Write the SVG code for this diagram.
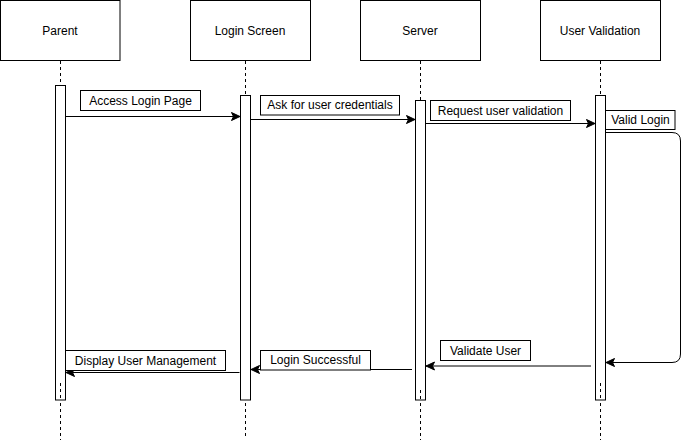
<svg xmlns="http://www.w3.org/2000/svg" width="689" height="442" viewBox="0 0 689 442">
<style>
  .hdr{fill:#fff;stroke:#000;stroke-width:1}
  .life{stroke:#000;stroke-width:1;stroke-dasharray:3,3;fill:none}
  .act{fill:#fff;stroke:#000;stroke-width:1}
  .lbl{fill:#fff;stroke:#000;stroke-width:1}
  .msg{stroke:#000;stroke-width:1;fill:none}
  text{font-family:"Liberation Sans",Arial,sans-serif;font-size:12px;fill:#000}
  .c{text-anchor:middle;dominant-baseline:central}
</style>
<defs>
  <marker id="arr" markerWidth="12" markerHeight="12" refX="9" refY="5" orient="auto" markerUnits="userSpaceOnUse">
    <path d="M0.5,1 L9,5 L0.5,9 L2.5,5 Z" fill="#000" stroke="#000" stroke-width="1"/>
  </marker>
</defs>
<rect width="689" height="442" fill="#fff"/>

<g id="parent">
  <rect class="hdr" x="0.5" y="0.5" width="119.5" height="60"/>
  <text class="c" x="60" y="30.5">Parent</text>
  <line class="life" x1="60.5" y1="61" x2="60.5" y2="440"/>
  <rect class="act" x="55.5" y="85.5" width="10" height="314.5"/>
  <line class="life" x1="60.5" y1="383" x2="60.5" y2="400"/>
</g>
<g id="login-screen">
  <rect class="hdr" x="190.5" y="0.5" width="120" height="60"/>
  <text class="c" x="250" y="30.5">Login Screen</text>
  <line class="life" x1="245.5" y1="61" x2="245.5" y2="436"/>
  <rect class="act" x="240.5" y="95.5" width="10" height="304.5"/>
</g>
<g id="server">
  <rect class="hdr" x="360.5" y="0.5" width="120" height="60"/>
  <text class="c" x="420" y="30.5">Server</text>
  <line class="life" x1="420.5" y1="61" x2="420.5" y2="440"/>
  <rect class="act" x="415.5" y="100.5" width="10" height="299.5"/>
  <line class="life" x1="420.5" y1="390" x2="420.5" y2="400"/>
</g>
<g id="user-validation">
  <rect class="hdr" x="540.5" y="0.5" width="120" height="60"/>
  <text class="c" x="600" y="30.5">User Validation</text>
  <line class="life" x1="600.5" y1="61" x2="600.5" y2="440"/>
  <rect class="act" x="595.5" y="95.5" width="10" height="304.5"/>
  <line class="life" x1="600.5" y1="383" x2="600.5" y2="400"/>
</g>

<g id="connectors">
  <line class="msg" x1="65.5" y1="116.5" x2="240" y2="116.5" marker-end="url(#arr)"/>
  <line class="msg" x1="250.5" y1="119.5" x2="415" y2="119.5" marker-end="url(#arr)"/>
  <line class="msg" x1="425.5" y1="123.5" x2="595" y2="123.5" marker-end="url(#arr)"/>
  <path class="msg" d="M605.5,132.5 H672 Q680.5,132.5 680.5,141 V354 Q680.5,362.5 672,362.5 H606" marker-end="url(#arr)"/>
  <line class="msg" x1="591" y1="366" x2="426" y2="366" marker-end="url(#arr)"/>
  <line class="msg" x1="412" y1="369.5" x2="251" y2="369.5" marker-end="url(#arr)"/>
  <line class="msg" x1="239.5" y1="372.5" x2="66" y2="372.5" marker-end="url(#arr)"/>
</g>

<g id="labels">
  <rect class="lbl" x="80.5" y="90.5" width="120" height="20"/>
  <text class="c" x="140.5" y="100.5">Access Login Page</text>
  <rect class="lbl" x="260.5" y="95.5" width="139" height="19.5"/>
  <text class="c" x="330" y="105">Ask for user credentials</text>
  <rect class="lbl" x="430.5" y="100.5" width="140" height="20"/>
  <text class="c" x="500.5" y="110.5">Request user validation</text>
  <rect class="lbl" x="605.5" y="110.5" width="69.5" height="19"/>
  <text class="c" x="640.5" y="120">Valid Login</text>
  <rect class="lbl" x="440.5" y="340.5" width="90" height="20"/>
  <text class="c" x="485.5" y="350.5">Validate User</text>
  <rect class="lbl" x="260.5" y="350.5" width="110" height="19.5"/>
  <text class="c" x="315.5" y="360">Login Successful</text>
  <rect class="lbl" x="65.5" y="350.5" width="160" height="20"/>
  <text class="c" x="145.5" y="360.5">Display User Management</text>
</g>
</svg>
